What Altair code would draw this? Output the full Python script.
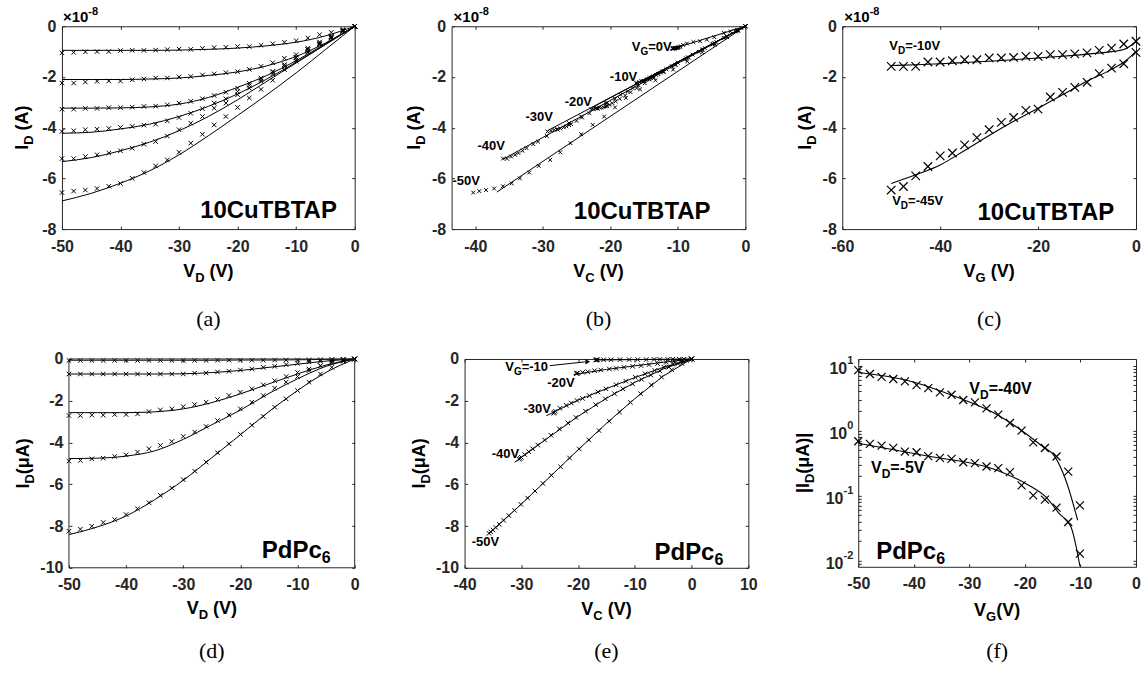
import altair as alt
import pandas as pd

SANS = "Liberation Sans"
SERIF = "Liberation Serif"
INK = "#000000"
AXC = "#262626"
XSHAPE = "M-1,-1L1,1M-1,1L1,-1"
TK = 3
LFS = 16
MINUS = "replace(datum.label, '\u2212', '-')"

# ---------------- (a) 10CuTBTAP output curves: I_D (x1e-8 A) vs V_D (V), V_G = 0..-50 V
A_VD = [-50, -48, -46, -44, -42, -40, -38, -36, -34, -32, -30, -28, -26, -24, -22, -20, -18, -16, -14, -12, -10, -8, -6, -4, -2, 0]
A_ID_0 = [-1.05, -1.03, -1.01, -1.00, -1.00, -0.96, -0.95, -0.95, -0.94, -0.92, -0.90, -0.91, -0.87, -0.84, -0.83, -0.80, -0.80, -0.75, -0.69, -0.63, -0.57, -0.46, -0.33, -0.24, -0.13, 0.0]
A_ID_10 = [-2.24, -2.24, -2.20, -2.17, -2.16, -2.16, -2.11, -2.08, -2.04, -2.04, -2.00, -1.98, -1.92, -1.88, -1.83, -1.79, -1.70, -1.58, -1.44, -1.26, -1.12, -0.86, -0.69, -0.46, -0.20, 0.0]
A_ID_20 = [-3.27, -3.27, -3.24, -3.24, -3.21, -3.21, -3.19, -3.16, -3.15, -3.10, -3.03, -2.96, -2.86, -2.73, -2.60, -2.44, -2.25, -2.04, -1.80, -1.52, -1.23, -0.92, -0.66, -0.40, -0.16, 0.0]
A_ID_30 = [-4.15, -4.12, -4.08, -4.06, -4.03, -3.99, -3.95, -3.90, -3.86, -3.73, -3.60, -3.43, -3.25, -3.03, -2.86, -2.57, -2.33, -2.10, -1.78, -1.52, -1.23, -0.92, -0.62, -0.40, -0.17, 0.0]
A_ID_40 = [-5.22, -5.22, -5.14, -5.07, -5.00, -4.91, -4.81, -4.65, -4.55, -4.33, -4.08, -3.82, -3.56, -3.23, -3.03, -2.70, -2.44, -2.17, -1.88, -1.59, -1.32, -1.01, -0.72, -0.46, -0.20, 0.0]
A_ID_50 = [-6.56, -6.50, -6.46, -6.40, -6.31, -6.20, -6.00, -5.77, -5.51, -5.27, -4.97, -4.61, -4.26, -3.89, -3.56, -3.20, -2.83, -2.49, -2.13, -1.71, -1.38, -1.03, -0.72, -0.43, -0.17, 0.0]
A_FIT_VD = [-50, -45, -40, -35, -30, -25, -20, -15, -10, -5, 0]
A_FIT_0 = [-0.95, -0.95, -0.95, -0.95, -0.94, -0.91, -0.86, -0.77, -0.63, -0.38, 0.0]
A_FIT_10 = [-2.10, -2.10, -2.10, -2.08, -2.04, -1.94, -1.80, -1.56, -1.19, -0.66, 0.0]
A_FIT_20 = [-3.23, -3.23, -3.22, -3.18, -3.07, -2.81, -2.41, -1.94, -1.36, -0.69, 0.0]
A_FIT_30 = [-4.22, -4.18, -4.05, -3.86, -3.56, -3.16, -2.67, -2.08, -1.42, -0.72, 0.0]
A_FIT_40 = [-5.34, -5.18, -4.91, -4.57, -4.12, -3.56, -2.90, -2.17, -1.45, -0.72, 0.0]
A_FIT_50 = [-6.89, -6.59, -6.19, -5.70, -5.07, -4.32, -3.52, -2.70, -1.84, -0.92, 0.0]

# ---------------- (b) 10CuTBTAP: I_D (x1e-8 A) vs V_C (V)
B_VC_0 = [-10.8, -10.75, -10.7, -10.65, -10.6, -10.5, -10.45, -10.4, -10.3, -10.2, -10.1, -10.0, -9.9, -9.75, -9.6, -9.2, -8.65, -7.7, -6.7, -5.7, -4.6, -3.2, -2.2, -1.2, -0.6, 0]
B_ID_0 = [-0.88, -0.88, -0.88, -0.87, -0.87, -0.87, -0.86, -0.86, -0.86, -0.85, -0.85, -0.84, -0.83, -0.82, -0.79, -0.74, -0.68, -0.62, -0.59, -0.53, -0.43, -0.26, -0.20, -0.15, -0.07, 0]
B_VC_10 = [-16.2, -16.0, -15.7, -15.4, -15.2, -15.0, -14.7, -14.5, -14.2, -14.0, -13.8, -13.6, -13.2, -12.9, -12.6, -12.3, -11.7, -10.9, -10.0, -8.8, -7.8, -6.0, -4.8, -3.2, -1.4, 0]
B_VC_20 = [-22.8, -22.5, -22.2, -21.9, -21.6, -21.3, -21.0, -20.7, -20.5, -20.1, -19.7, -19.2, -18.6, -17.8, -17.0, -16.1, -14.9, -13.6, -12.1, -10.4, -8.5, -6.4, -4.6, -2.8, -1.1, 0]
B_VC_30 = [-29.3, -28.8, -28.3, -27.9, -27.4, -26.9, -26.5, -26.1, -25.8, -25.0, -24.2, -23.1, -21.9, -20.5, -19.3, -17.4, -15.8, -14.2, -12.1, -10.3, -8.4, -6.3, -4.3, -2.8, -1.2, 0]
B_VC_40 = [-35.9, -35.3, -34.7, -34.1, -33.6, -33.0, -32.4, -31.4, -30.7, -29.4, -27.8, -26.1, -24.3, -22.1, -20.7, -18.5, -16.7, -14.9, -12.9, -10.9, -9.0, -6.9, -4.9, -3.1, -1.4, 0]
B_VC_50 = [-40.3, -39.4, -38.4, -37.2, -35.9, -34.6, -33.4, -32.0, -30.6, -28.9, -27.4, -25.9, -24.3, -22.6, -20.9, -19.3, -17.7, -15.6, -13.3, -10.7, -8.6, -6.4, -4.5, -2.7, -1.1, 0]
B_FIT_END_VC = [-11.1, -16.3, -22.8, -29.3, -35.9, -36.8]
B_FIT_END_ID = [-0.92, -2.30, -3.22, -4.12, -5.25, -6.54]

# ---------------- (c) 10CuTBTAP transfer: I_D (x1e-8 A) vs V_G (V)
C_VG = [-50, -47.5, -45, -42.5, -40, -37.5, -35, -32.5, -30, -27.5, -25, -22.5, -20, -17.5, -15, -12.5, -10, -7.5, -5, -2.5, 0]
C_ID_10 = [-1.58, -1.58, -1.58, -1.41, -1.41, -1.36, -1.32, -1.32, -1.25, -1.25, -1.23, -1.19, -1.19, -1.12, -1.12, -1.09, -1.05, -0.95, -0.86, -0.70, -0.59]
C_ID_45 = [-6.46, -6.32, -5.90, -5.53, -5.11, -5.00, -4.68, -4.39, -4.08, -3.79, -3.60, -3.32, -3.27, -2.79, -2.61, -2.41, -2.21, -1.87, -1.65, -1.48, -1.03]
C_FIT_VG = [-50, -45, -40, -35, -30, -25, -20, -15, -10, -5, -2.5, 0]
C_FIT_10 = [-1.55, -1.52, -1.48, -1.43, -1.38, -1.32, -1.25, -1.18, -1.10, -1.00, -0.92, -0.60]
C_FIT_45 = [-6.20, -5.86, -5.47, -4.90, -4.31, -3.75, -3.23, -2.70, -2.17, -1.70, -1.42, -0.99]

# ---------------- (d) PdPc6 output: I_D (uA) vs V_D (V)
D_VD = A_VD
D_ID_1 = [-0.07, -0.07, -0.07, -0.07, -0.07, -0.07, -0.07, -0.07, -0.07, -0.07, -0.07, -0.07, -0.07, -0.06, -0.06, -0.06, -0.06, -0.06, -0.05, -0.05, -0.05, -0.04, -0.03, -0.02, -0.01, 0.0]
D_ID_2 = [-0.72, -0.72, -0.72, -0.72, -0.72, -0.72, -0.72, -0.72, -0.72, -0.72, -0.72, -0.68, -0.67, -0.62, -0.59, -0.53, -0.48, -0.40, -0.35, -0.27, -0.21, -0.14, -0.10, -0.05, -0.03, 0.0]
D_ID_3 = [-2.71, -2.71, -2.69, -2.69, -2.66, -2.66, -2.63, -2.52, -2.44, -2.39, -2.28, -2.18, -2.07, -1.94, -1.75, -1.59, -1.43, -1.24, -1.04, -0.84, -0.65, -0.48, -0.32, -0.16, -0.08, 0.0]
D_ID_4 = [-4.89, -4.86, -4.78, -4.75, -4.67, -4.59, -4.46, -4.30, -4.14, -3.95, -3.71, -3.50, -3.23, -2.95, -2.68, -2.39, -2.07, -1.75, -1.40, -1.11, -0.84, -0.56, -0.32, -0.11, -0.05, 0.0]
D_ID_5 = [-8.25, -8.15, -8.01, -7.83, -7.69, -7.45, -7.17, -6.88, -6.53, -6.18, -5.78, -5.37, -4.94, -4.49, -4.06, -3.61, -3.17, -2.75, -2.31, -1.91, -1.51, -1.11, -0.72, -0.40, -0.11, 0.0]
D_FIT_VD = [-50, -45, -40, -35, -30, -25, -20, -15, -10, -5, 0]
D_FIT_1 = [-0.06, -0.06, -0.06, -0.06, -0.06, -0.06, -0.05, -0.05, -0.04, -0.02, 0.0]
D_FIT_2 = [-0.72, -0.72, -0.72, -0.72, -0.71, -0.65, -0.55, -0.40, -0.25, -0.10, 0.0]
D_FIT_3 = [-2.57, -2.57, -2.57, -2.53, -2.39, -2.09, -1.67, -1.19, -0.72, -0.29, 0.0]
D_FIT_4 = [-4.77, -4.75, -4.65, -4.40, -3.85, -3.15, -2.45, -1.65, -0.95, -0.35, 0.0]
D_FIT_5 = [-8.41, -8.04, -7.52, -6.74, -5.81, -4.73, -3.63, -2.52, -1.51, -0.64, 0.0]

# ---------------- (e) PdPc6: I_D (uA) vs V_C (V)
E_VC_10 = [-16.9, -16.8, -16.7, -16.6, -15.5, -14.2, -12.6, -11.0, -9.5, -8.0, -6.6, -5.6, -4.2, -3.3, -2.2, -1.3, 0]
E_ID_10 = [-0.05, -0.05, -0.04, -0.04, -0.04, -0.04, -0.03, -0.03, -0.03, -0.03, -0.02, -0.02, -0.02, -0.01, -0.01, -0.01, 0]
E_VC_20 = [-20.3, -20.2, -20.1, -19.2, -18.3, -17.1, -16.0, -14.5, -13.3, -11.9, -10.4, -8.9, -7.5, -6.0, -4.5, -3.1, -1.6, 0]
E_ID_20 = [-0.70, -0.69, -0.67, -0.64, -0.61, -0.56, -0.53, -0.48, -0.45, -0.40, -0.35, -0.32, -0.27, -0.22, -0.16, -0.11, -0.05, 0]
E_VC_30 = [-24.3, -24.2, -24.0, -23.2, -22.1, -21.2, -20.2, -19.2, -18.0, -16.5, -15.1, -13.3, -11.6, -9.9, -8.2, -6.5, -4.9, -3.3, -1.7, 0]
E_ID_30 = [-2.60, -2.56, -2.50, -2.36, -2.22, -2.11, -1.99, -1.89, -1.76, -1.58, -1.43, -1.24, -1.06, -0.88, -0.71, -0.55, -0.39, -0.25, -0.11, 0]
E_VC_40 = [-30.4, -30.2, -30.0, -29.4, -28.7, -28.0, -27.1, -25.9, -24.8, -23.3, -21.8, -20.4, -18.7, -16.9, -15.2, -13.6, -12.1, -10.4, -8.8, -7.2, -5.6, -4.0, -2.4, -0.9, 0]
E_ID_40 = [-4.80, -4.76, -4.71, -4.58, -4.44, -4.30, -4.12, -3.88, -3.65, -3.35, -3.06, -2.80, -2.50, -2.19, -1.91, -1.66, -1.43, -1.19, -0.98, -0.77, -0.57, -0.39, -0.22, -0.07, 0]
E_VC_50 = [-35.7, -35.4, -35.0, -34.5, -33.9, -33.1, -32.2, -31.2, -30.1, -28.9, -27.6, -26.2, -24.7, -23.1, -21.5, -19.8, -18.1, -16.3, -14.5, -12.7, -10.8, -9.0, -7.1, -5.3, -3.5, -1.7, 0]
E_ID_50 = [-8.35, -8.28, -8.19, -8.07, -7.92, -7.73, -7.50, -7.25, -6.96, -6.66, -6.32, -5.96, -5.57, -5.16, -4.74, -4.31, -3.88, -3.43, -2.98, -2.54, -2.08, -1.66, -1.24, -0.87, -0.52, -0.22, 0]
E_FIT_VC_10 = [-17.0, 0]
E_FIT_ID_10 = [-0.05, 0]
E_FIT_VC_20 = [-20.8, -15, -10, -5, 0]
E_FIT_ID_20 = [-0.74, -0.50, -0.33, -0.16, 0]
E_FIT_VC_30 = [-25.6, -20, -15, -10, -5, 0]
E_FIT_ID_30 = [-2.72, -1.97, -1.42, -0.89, -0.40, 0]
E_FIT_VC_40 = [-31.2, -25, -20, -15, -10, -5, 0]
E_FIT_ID_40 = [-4.95, -3.72, -2.75, -1.88, -1.12, -0.48, 0]
E_FIT_VC_50 = [-35.7, -30, -25, -20, -15, -10, -5, 0]
E_FIT_ID_50 = [-8.35, -6.95, -5.65, -4.35, -3.08, -1.90, -0.82, 0]

# ---------------- (f) PdPc6 transfer: |I_D| (uA) vs V_G (V), log scale
F_VG = [-50, -47.9, -45.8, -43.7, -41.6, -39.5, -37.4, -35.3, -33.2, -31.1, -29.0, -26.9, -24.8, -22.7, -20.6, -18.5, -16.4, -14.3, -12.2, -10.1]
F_ID_40 = [8.5, 7.4, 6.7, 6.2, 5.7, 5.0, 4.5, 3.86, 3.56, 2.95, 2.71, 2.20, 1.76, 1.31, 1.00, 0.66, 0.54, 0.40, 0.235, 0.071]
F_ID_5 = [0.687, 0.625, 0.589, 0.543, 0.477, 0.466, 0.405, 0.382, 0.368, 0.327, 0.316, 0.281, 0.265, 0.230, 0.144, 0.101, 0.087, 0.0655, 0.0395, 0.0129]
F_FIT_VG_40 = [-50, -40.8, -31.8, -25.8, -21.0, -16.8, -14.7, -12.6, -10.5]
F_FIT_ID_40 = [7.8, 5.8, 3.16, 1.91, 1.06, 0.57, 0.41, 0.17, 0.042]
F_FIT_VG_5 = [-50, -37.8, -25.8, -19.8, -16.2, -13.8, -11.7, -10.1]
F_FIT_ID_5 = [0.64, 0.41, 0.26, 0.153, 0.095, 0.053, 0.033, 0.0083]
F_MAJOR = [10, 1, 0.1, 0.01]
F_MAJOR_EXP = ["1", "0", "-1", "-2"]

# ---------------- helpers
AW = {' ': 278, '(': 333, ')': 333, '-': 333, '=': 584, 'A': 722, 'B': 722, 'C': 722, 'D': 722,
      'G': 778, 'I': 278, 'P': 667, 'T': 611, 'V': 667, 'c': 556, 'd': 611, 'u': 611, '|': 280,
      '\u03bc': 611, '\u00d7': 584}


def tw(text, size):
    return sum(AW.get(c, 556) for c in text) * size / 1000.0


ONE = pd.DataFrame({'k': [0]})


def long(series):
    rows = []
    for name, xs, ys in series:
        for xv, yv in zip(xs, ys):
            rows.append({'x': xv, 'y': yv, 's': name})
    return pd.DataFrame(rows)


def split_lead(t, s):
    lead = 0.0
    while t.startswith(' '):
        lead += tw(' ', s)
        t = t[1:]
    return t, lead


def px_text(segs, x, y, align='left', angle=0, color=INK):
    total = sum(tw(t, s) for t, s, _ in segs)
    pos = {'left': 0.0, 'center': -total / 2.0, 'right': -total}[align]
    out = []
    for t, s, sh in segs:
        full = tw(t, s)
        t2, lead = split_lead(t, s)
        p = pos + lead
        if angle == 0:
            xx, yy = x + p, y + sh
        else:
            xx, yy = x + sh, y - p
        out.append(alt.Chart(ONE).mark_text(
            text=t2, align='left', baseline='alphabetic', angle=angle, font=SANS,
            fontSize=s, fontWeight='bold', color=color).encode(x=alt.value(xx), y=alt.value(yy)))
        pos += full
    return out


def data_text(segs, xv, yv, xs, ys, align='left'):
    df = pd.DataFrame({'x': [xv], 'y': [yv]})
    total = sum(tw(t, s) for t, s, _ in segs)
    pos = {'left': 0.0, 'center': -total / 2.0, 'right': -total}[align]
    out = []
    for t, s, sh in segs:
        out.append(alt.Chart(df).mark_text(
            text=t, align='left', baseline='alphabetic', dx=pos, dy=sh, font=SANS,
            fontSize=s, fontWeight='bold', color=INK).encode(
            x=alt.X('x:Q', scale=xs, axis=None), y=alt.Y('y:Q', scale=ys, axis=None)))
        pos += tw(t, s)
    return out


def caption(label, x, y):
    return [alt.Chart(ONE).mark_text(text=label, align='center', baseline='alphabetic', font=SERIF,
                                     fontSize=22, color=INK).encode(x=alt.value(x), y=alt.value(y))]


def panel(W, H, xs, ys, xticks, yticks, lines_df, pts_df, msize, extras, interp='monotone',
          ylabels=True, lw=1.0, mw=1.0, xoff=0):
    com = dict(title=None, grid=False, domain=False, tickSize=TK, tickColor=AXC, tickWidth=1)
    lab = dict(labelFont=SANS, labelFontSize=LFS, labelFontWeight='bold', labelColor=AXC,
               labelOverlap=False, labelFlush=False, labelExpr=MINUS)
    xb = alt.Axis(orient='bottom', values=xticks, labelPadding=9, offset=-TK, **lab, **com)
    if ylabels:
        yl = alt.Axis(orient='left', values=yticks, labelPadding=6, offset=-(TK + xoff), **lab, **com)
    else:
        yl = alt.Axis(orient='left', values=yticks, labels=False, offset=-(TK + xoff), **com)
    xt = alt.Axis(orient='top', values=xticks, labels=False, offset=-TK, **com)
    yr = alt.Axis(orient='right', values=yticks, labels=False, offset=-TK, **com)
    lines = alt.Chart(lines_df).mark_line(color=INK, strokeWidth=lw, interpolate=interp).encode(
        x=alt.X('x:Q', scale=xs, axis=xb), y=alt.Y('y:Q', scale=ys, axis=yl), detail='s:N')
    pts = alt.Chart(pts_df).mark_point(shape=XSHAPE, size=msize, filled=False, color=INK,
                                       strokeWidth=mw, opacity=1).encode(
        x=alt.X('x:Q', scale=xs, axis=xt), y=alt.Y('y:Q', scale=ys, axis=yr))
    layers = [lines, pts] + list(extras)
    if xoff:
        frame = alt.Chart(ONE).mark_rect(fill='transparent', stroke=AXC, strokeWidth=1).encode(
            x=alt.value(xoff), x2=alt.value(W), y=alt.value(0), y2=alt.value(H))
        layers.append(frame)
    ch = alt.layer(*layers).resolve_axis(x='independent', y='independent').properties(width=W, height=H)
    if xoff:
        ch = ch.properties(view=alt.ViewBackground(stroke='transparent'))
    return ch


SUB = 5
ID_A = [('I', 18, 0), ('D', 13, SUB), (' (A)', 18, 0)]
ID_UA = [('I', 18, 0), ('D', 13, SUB), ('(\u03bcA)', 18, 0)]
EXP8 = [('\u00d710', 15, 0), ('-8', 11, -7)]
CUT = [('10CuTBTAP', 24, 0)]
PDPC = [('PdPc', 24, 0), ('6', 16, 5)]


def vt(sub, sp=' (V)'):
    return [('V', 18, 0), (sub, 13, SUB), (sp, 18, 0)]


# ---------------- panel (a)
WA, HA = 293, 203
xs_a = alt.Scale(domain=[-50, 0], nice=False, zero=False)
ys_top = alt.Scale(domain=[-8, 0], nice=False, zero=False)
a_pts = long([(n, A_VD, v) for n, v in [('0', A_ID_0), ('10', A_ID_10), ('20', A_ID_20), ('30', A_ID_30), ('40', A_ID_40), ('50', A_ID_50)]])
a_fit = long([(n, A_FIT_VD, v) for n, v in [('0', A_FIT_0), ('10', A_FIT_10), ('20', A_FIT_20), ('30', A_FIT_30), ('40', A_FIT_40), ('50', A_FIT_50)]])
a_ext = (px_text(ID_A, -34, HA / 2, 'center', 270) + px_text(vt('D'), WA / 2, HA + 48, 'center')
         + caption('(a)', WA / 2, HA + 97) + px_text(EXP8, 1, -4) + px_text(CUT, WA - 16, HA - 11, 'right'))
pa = panel(WA, HA, xs_a, ys_top, [-50, -40, -30, -20, -10, 0], [-8, -6, -4, -2, 0], a_fit, a_pts, 20, a_ext)

# ---------------- panel (b)
WB, HB = 294, 203
xs_b = alt.Scale(domain=[-43.5, 0], nice=False, zero=False)
b_pts = long([('0', B_VC_0, B_ID_0), ('10', B_VC_10, A_ID_10), ('20', B_VC_20, A_ID_20),
              ('30', B_VC_30, A_ID_30), ('40', B_VC_40, A_ID_40), ('50', B_VC_50, A_ID_50)])
b_fit = long([(str(i), [vc, 0], [iv, 0]) for i, (vc, iv) in enumerate(zip(B_FIT_END_VC, B_FIT_END_ID))])
b_lab = [([('V', 13, 0), ('G', 10, 4), ('=0V', 13, 0)], -10.9, -0.99),
         ([('-10V', 13, 0)], -16.0, -2.16), ([('-20V', 13, 0)], -22.7, -3.15),
         ([('-30V', 13, 0)], -28.5, -3.74), ([('-40V', 13, 0)], -35.6, -4.89),
         ([('-50V', 13, 0)], -39.3, -6.27)]
b_ext = (px_text(ID_A, -32, HB / 2, 'center', 270) + px_text(vt('C'), WB / 2, HB + 48, 'center')
         + caption('(b)', WB / 2, HB + 97) + px_text(EXP8, 2, -4) + px_text(CUT, WB - 33, HB - 10, 'right'))
for segs, xv, yv in b_lab:
    b_ext += data_text(segs, xv, yv, xs_b, ys_top, 'right')
pb = panel(WB, HB, xs_b, ys_top, [-40, -30, -20, -10, 0], [-8, -6, -4, -2, 0], b_fit, b_pts, 14, b_ext,
           interp='linear')

# ---------------- panel (c)
WC, HC = 294, 203
xs_c = alt.Scale(domain=[-60, 0], nice=False, zero=False)
c_pts = long([('10', C_VG, C_ID_10), ('45', C_VG, C_ID_45)])
c_fit = long([('10', C_FIT_VG, C_FIT_10), ('45', C_FIT_VG, C_FIT_45)])
c_ext = (px_text(ID_A, -31, HC / 2, 'center', 270) + px_text(vt('G'), WC / 2, HC + 48, 'center')
         + caption('(c)', WC / 2, HC + 97) + px_text(EXP8, 2, -4) + px_text(CUT, WC - 20, HC - 9, 'right'))
c_ext += data_text([('V', 13, 0), ('D', 10, 4), ('=-10V', 13, 0)], -50.4, -0.94, xs_c, ys_top, 'left')
c_ext += data_text([('V', 13, 0), ('D', 10, 4), ('=-45V', 13, 0)], -49.8, -7.06, xs_c, ys_top, 'left')
pc = panel(WC, HC, xs_c, ys_top, [-60, -40, -20, 0], [-8, -6, -4, -2, 0], c_fit, c_pts, 72, c_ext,
           lw=1.1, mw=1.2)

# ---------------- panel (d)  (group 293 wide, plot area offset 7 px to the right)
DOFF = 7
WD, HD = 293, 209
xs_d = alt.Scale(domain=[-50, 0], nice=False, zero=False, range=[DOFF, WD])
ys_bot = alt.Scale(domain=[-10, 0], nice=False, zero=False)
d_pts = long([(n, D_VD, v) for n, v in [('1', D_ID_1), ('2', D_ID_2), ('3', D_ID_3), ('4', D_ID_4), ('5', D_ID_5)]])
d_fit = long([(n, D_FIT_VD, v) for n, v in [('1', D_FIT_1), ('2', D_FIT_2), ('3', D_FIT_3), ('4', D_FIT_4), ('5', D_FIT_5)]])
dmid = DOFF + (WD - DOFF) / 2.0
d_ext = (px_text(ID_UA, DOFF - 40, HD / 2, 'center', 270) + px_text(vt('D'), dmid, HD + 46, 'center')
         + caption('(d)', dmid, HD + 90) + px_text(PDPC, WD - 24, HD - 10, 'right'))
pd_ = panel(WD, HD, xs_d, ys_bot, [-50, -40, -30, -20, -10, 0], [-10, -8, -6, -4, -2, 0], d_fit, d_pts, 20,
            d_ext, xoff=DOFF)

# ---------------- panel (e)
WE, HE = 284, 209
xs_e = alt.Scale(domain=[-40, 10], nice=False, zero=False)
e_pts = long([('10', E_VC_10, E_ID_10), ('20', E_VC_20, E_ID_20), ('30', E_VC_30, E_ID_30),
              ('40', E_VC_40, E_ID_40), ('50', E_VC_50, E_ID_50)])
e_fit = long([('10', E_FIT_VC_10, E_FIT_ID_10), ('20', E_FIT_VC_20, E_FIT_ID_20), ('30', E_FIT_VC_30, E_FIT_ID_30),
              ('40', E_FIT_VC_40, E_FIT_ID_40), ('50', E_FIT_VC_50, E_FIT_ID_50)])
e_ext = (px_text(ID_UA, -40, HE / 2, 'center', 270) + px_text(vt('C'), WE / 2, HE + 47, 'center')
         + caption('(e)', WE / 2, HE + 90) + px_text(PDPC, WE - 25, HE - 8, 'right'))
e_lab = [([('V', 13, 0), ('G', 10, 4), ('=-10', 13, 0)], -25.3, -0.59),
         ([('-20V', 13, 0)], -20.6, -1.32), ([('-30V', 13, 0)], -24.8, -2.60),
         ([('-40V', 13, 0)], -30.4, -4.76), ([('-50V', 13, 0)], -33.9, -8.97)]
for segs, xv, yv in e_lab:
    e_ext += data_text(segs, xv, yv, xs_e, ys_bot, 'right')
arrow_df = pd.DataFrame({'x': [-25.0, -18.8], 'y': [-0.32, -0.14]})
e_ext.append(alt.Chart(arrow_df).mark_line(color=INK, strokeWidth=1).encode(
    x=alt.X('x:Q', scale=xs_e, axis=None), y=alt.Y('y:Q', scale=ys_bot, axis=None)))
e_ext.append(alt.Chart(pd.DataFrame({'x': [-18.3], 'y': [-0.13]})).mark_point(
    shape='triangle-right', size=30, filled=True, color=INK, opacity=1).encode(
    x=alt.X('x:Q', scale=xs_e, axis=None), y=alt.Y('y:Q', scale=ys_bot, axis=None)))
pe = panel(WE, HE, xs_e, ys_bot, [-40, -30, -20, -10, 0, 10], [-10, -8, -6, -4, -2, 0], e_fit, e_pts, 20, e_ext,
           interp='linear')

# ---------------- panel (f)
WF, HF = 278, 208
xs_f = alt.Scale(domain=[-50, 0], nice=False, zero=False)
ys_f = alt.Scale(type='log', domain=[0.0081, 12.6], nice=False)
f_ticks = [m * 10.0 ** e for e in (-3, -2, -1, 0, 1) for m in range(1, 10)]
f_ticks = [round(v, 6) for v in f_ticks if 0.0082 <= v <= 12.5]
f_pts = long([('40', F_VG, F_ID_40), ('5', F_VG, F_ID_5)])
f_fit = long([('40', F_FIT_VG_40, F_FIT_ID_40), ('5', F_FIT_VG_5, F_FIT_ID_5)])
f_ext = (px_text([('|I', 18, 0), ('D', 13, SUB), ('(\u03bcA)|', 18, 0)], -49, HF / 2, 'center', 270)
         + px_text(vt('G', '(V)'), WF / 2, HF + 49, 'center')
         + caption('(f)', WF / 2, HF + 91) + px_text(PDPC, 18, HF - 8, 'left'))
f_ext += data_text([('V', 16, 0), ('D', 12, 5), ('=-40V', 16, 0)], -30.0, 3.65, xs_f, ys_f, 'left')
f_ext += data_text([('V', 16, 0), ('D', 12, 5), ('=-5V', 16, 0)], -47.7, 0.22, xs_f, ys_f, 'left')
for v, ex in zip(F_MAJOR, F_MAJOR_EXP):
    sw = tw(ex, 11)
    dfv = pd.DataFrame({'y': [v]})
    f_ext.append(alt.Chart(dfv).mark_text(text='10', align='right', baseline='middle', dy=3, font=SANS,
                                          fontSize=LFS, fontWeight='bold', color=AXC).encode(
        x=alt.value(-5 - sw), y=alt.Y('y:Q', scale=ys_f, axis=None)))
    f_ext.append(alt.Chart(dfv).mark_text(text=ex, align='left', baseline='middle', dy=-5, font=SANS,
                                          fontSize=11, fontWeight='bold', color=AXC).encode(
        x=alt.value(-5 - sw), y=alt.Y('y:Q', scale=ys_f, axis=None)))
pf = panel(WF, HF, xs_f, ys_f, [-50, -40, -30, -20, -10, 0], f_ticks, f_fit, f_pts, 64, f_ext,
           ylabels=False, lw=1.1, mw=1.2)

top = alt.hconcat(pa, pb, pc, spacing=97, bounds='flush')
bottom = alt.hconcat(pd_, pe, pf, spacing=110, bounds='flush')
chart = alt.vconcat(top, bottom, spacing=19, bounds='full').properties(
    padding={'left': 13, 'top': 5, 'right': 0, 'bottom': 0}, background='white'
).configure_view(stroke=AXC, strokeWidth=1).configure_axis(
    labelFont=SANS, labelFontSize=LFS, labelFontWeight='bold', labelColor=AXC)

chart.save("out.html", embed_options={"renderer": "svg", "actions": False})
